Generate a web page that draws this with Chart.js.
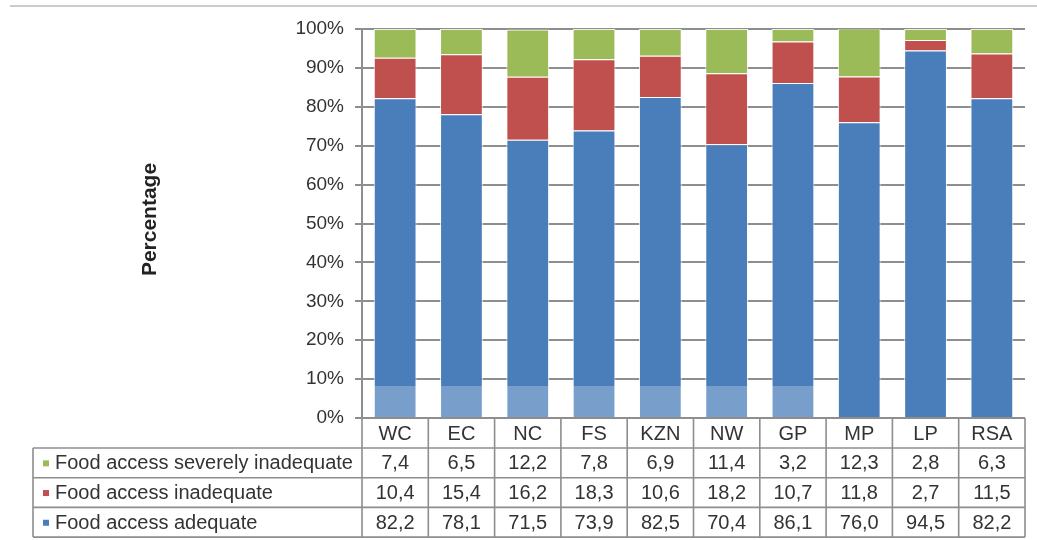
<!DOCTYPE html>
<html>
<head>
<meta charset="utf-8">
<title>Food access by province</title>
<script src="https://cdn.jsdelivr.net/npm/chart.js@4/dist/chart.umd.min.js"></script>
<style>
  html, body { margin: 0; padding: 0; background: #ffffff; }
  #wrap { width: 1037px; height: 540px; }
</style>
</head>
<body>
<div id="wrap"><canvas id="chart" width="1037" height="540"></canvas></div>
<script>
// Provinces (and national total) along the category axis
const provinces = ['WC', 'EC', 'NC', 'FS', 'KZN', 'NW', 'GP', 'MP', 'LP', 'RSA'];

// Share of households per food-access level (%)
const accessAdequate   = [82.2, 78.1, 71.5, 73.9, 82.5, 70.4, 86.1, 76.0, 94.5, 82.2];
const accessInadequate = [10.4, 15.4, 16.2, 18.3, 10.6, 18.2, 10.7, 11.8, 2.7, 11.5];
const accessSevere     = [7.4, 6.5, 12.2, 7.8, 6.9, 11.4, 3.2, 12.3, 2.8, 6.3];

// Value axis ticks
const percentTicks = [0, 10, 20, 30, 40, 50, 60, 70, 80, 90, 100];

const seriesNames = {
  adequate: 'Food access adequate',
  inadequate: 'Food access inadequate',
  severe: 'Food access severely inadequate'
};

const COLORS = { blue: '#4a7ebb', red: '#c0504d', green: '#9bbb59' };
const FONT = "'Liberation Sans', Arial, Helvetica, sans-serif";
const TEXT = '#333333';
const LINE = '#8e8e8e';

Chart.defaults.font.family = FONT;
Chart.defaults.color = TEXT;

// Data table under the plot, one column per category, plus the y-axis title
const tablePlugin = {
  id: 'dataTable',
  afterDraw(chart) {
    const ctx = chart.ctx;
    const x = chart.scales.x;
    const area = chart.chartArea;
    const n = provinces.length;
    const half = (x.getPixelForValue(1) - x.getPixelForValue(0)) / 2;
    const bounds = [];
    for (let i = 0; i < n; i++) bounds.push(x.getPixelForValue(i) - half);
    bounds.push(x.getPixelForValue(n - 1) + half);

    const headTop = area.bottom;
    const rowH = 29.7;
    const bodyTop = headTop + 30;
    const legendLeft = 33;
    const rows = [
      { name: seriesNames.severe, color: COLORS.green, values: accessSevere },
      { name: seriesNames.inadequate, color: COLORS.red, values: accessInadequate },
      { name: seriesNames.adequate, color: COLORS.blue, values: accessAdequate }
    ];
    const bottom = bodyTop + rows.length * rowH;

    ctx.save();

    // soft light band across the lower part of the first bars
    ctx.fillStyle = 'rgba(255,255,255,0.26)';
    ctx.fillRect(area.left + 1, area.bottom - 32, 463, 31);

    ctx.strokeStyle = LINE;
    ctx.lineWidth = 1.6;
    ctx.beginPath();
    // vertical column borders (header + body)
    bounds.forEach(b => { ctx.moveTo(b, headTop); ctx.lineTo(b, bottom); });
    // legend column border
    ctx.moveTo(legendLeft, bodyTop); ctx.lineTo(legendLeft, bottom);
    // horizontal row borders
    for (let r = 0; r <= rows.length; r++) {
      const y = bodyTop + r * rowH;
      ctx.moveTo(r === 0 ? legendLeft : legendLeft, y); ctx.lineTo(bounds[n], y);
    }
    ctx.stroke();

    // header labels
    ctx.fillStyle = TEXT;
    ctx.font = '20px ' + FONT;
    ctx.textAlign = 'center';
    ctx.textBaseline = 'middle';
    provinces.forEach((p, i) => ctx.fillText(p, x.getPixelForValue(i), headTop + 16));

    // body rows
    rows.forEach((row, r) => {
      const cy = bodyTop + r * rowH + rowH / 2 + 1;
      ctx.fillStyle = row.color;
      ctx.fillRect(legendLeft + 10, cy - 3.5, 6, 6);
      ctx.fillStyle = TEXT;
      ctx.textAlign = 'left';
      ctx.fillText(row.name, legendLeft + 22, cy);
      ctx.textAlign = 'center';
      row.values.forEach((v, i) => {
        ctx.fillText(v.toFixed(1).replace('.', ','), x.getPixelForValue(i), cy);
      });
    });

    // y-axis title
    ctx.save();
    ctx.translate(150, (area.top + area.bottom) / 2 - 4);
    ctx.rotate(-Math.PI / 2);
    ctx.font = 'bold 21px ' + FONT;
    ctx.fillStyle = '#222';
    ctx.textAlign = 'center';
    ctx.textBaseline = 'middle';
    ctx.fillText('Percentage', 0, 0);
    ctx.restore();

    // thin rule across the top
    ctx.strokeStyle = '#cccccc';
    ctx.lineWidth = 2;
    ctx.beginPath();
    ctx.moveTo(10, 6); ctx.lineTo(chart.width, 6);
    ctx.stroke();

    ctx.restore();
  }
};

const barStyle = {
  borderColor: 'rgba(255,255,255,0.85)',
  borderWidth: 1,
  barPercentage: 0.645,
  categoryPercentage: 1.0
};

new Chart(document.getElementById('chart'), {
  type: 'bar',
  data: {
    labels: provinces,
    datasets: [
      Object.assign({ label: seriesNames.adequate, data: accessAdequate, backgroundColor: COLORS.blue }, barStyle),
      Object.assign({ label: seriesNames.inadequate, data: accessInadequate, backgroundColor: COLORS.red }, barStyle),
      Object.assign({ label: seriesNames.severe, data: accessSevere, backgroundColor: COLORS.green }, barStyle)
    ]
  },
  options: {
    responsive: false,
    animation: false,
    devicePixelRatio: 1,
    layout: { padding: { top: 29, right: 12, bottom: 122, left: 0 } },
    plugins: {
      legend: { display: false },
      tooltip: { enabled: false }
    },
    scales: {
      x: {
        stacked: true,
        display: false
      },
      y: {
        stacked: true,
        min: 0,
        max: 100,
        afterBuildTicks(scale) {
          scale.ticks = percentTicks.map(v => ({ value: v }));
        },
        afterFit(scale) { scale.width = 362; },
        ticks: {
          callback: v => v + '%',
          font: { size: 19 },
          color: TEXT,
          padding: 11
        },
        grid: {
          color: LINE,
          lineWidth: 2,
          tickLength: 7
        },
        border: { color: LINE, width: 2 }
      }
    }
  },
  plugins: [tablePlugin]
});
</script>
</body>
</html>
